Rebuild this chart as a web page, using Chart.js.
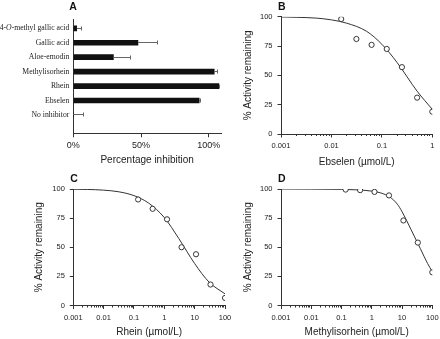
<!DOCTYPE html>
<html><head><meta charset="utf-8">
<script src="https://cdn.jsdelivr.net/npm/chart.js@4"></script>
<style>
html,body{margin:0;padding:0;background:#fff;}
#wrap{position:relative;width:440px;height:339px;overflow:hidden;background:#fff;}
canvas{position:absolute;left:0;top:0;}
</style></head><body>
<div id="wrap">
<canvas id="cA" width="440" height="339"></canvas>
<canvas id="cB" width="440" height="339"></canvas>
<canvas id="cC" width="440" height="339"></canvas>
<canvas id="cD" width="440" height="339"></canvas>
</div>
<script>
// ---------- Panel A: percentage inhibition ----------
const catA = ['4-O-methyl gallic acid', 'Gallic acid', 'Aloe-emodin', 'Methylisorhein', 'Rhein', 'Ebselen', 'No inhibitor'];
const inhibA = [2.5, 47.7, 29.6, 104, 107.4, 92.9, 0];
const errA = [3.4, 14.5, 12.6, 2.7, 0.6, 0.7, 7.4];
const xTicksA = [0, 50, 100];

// ---------- Panel B: Ebselen ----------
const concB = [0.015625, 0.03125, 0.0625, 0.125, 0.25, 0.5, 1];
const actB = [98, 81, 76, 72.5, 57, 31, 19];
const fitXB = [0.001, 0.002, 0.005, 0.01, 0.02, 0.05, 0.1, 0.2, 0.5, 1];
const fitYB = [99.8, 99.5, 98.8, 97.3, 94.5, 87.5, 76.5, 61, 36.5, 21];
const xMajorB = [0.001, 0.01, 0.1, 1];

// ---------- Panel C: Rhein ----------
const concC = [0.137, 0.412, 1.23, 3.7, 11.1, 33.3, 100];
const actC = [91, 83, 74, 50, 44, 18, 6.5];
const fitXC = [0.001, 0.003, 0.01, 0.03, 0.1, 0.3, 1, 3, 10, 30, 100];
const fitYC = [99.8, 99.6, 99.0, 97.7, 94.3, 88, 75.5, 57.5, 36, 20, 10];
const xMajorC = [0.001, 0.01, 0.1, 1, 10, 100];

// ---------- Panel D: Methylisorhein ----------
const concD = [0.137, 0.412, 1.23, 3.7, 11.1, 33.3, 100];
const actD = [99.5, 99, 97.5, 94.5, 73, 54, 28.5];
const fitXD = [0.001, 0.01, 0.1, 0.3, 1, 2, 4, 7, 10, 20, 40, 70, 100];
const fitYD = [100, 99.9, 99.7, 99.3, 98.2, 96.6, 93, 87, 80.5, 65, 49, 36, 29];
const xMajorD = [0.001, 0.01, 0.1, 1, 10, 100];

const yTicksAct = [0, 25, 50, 75, 100];

Chart.defaults.font.family = "'Liberation Sans', Arial, Helvetica, sans-serif";
Chart.defaults.color = '#222';
Chart.defaults.animation = false;
Chart.defaults.responsive = false;
Chart.defaults.devicePixelRatio = 1;
Chart.defaults.plugins.legend.display = false;
Chart.defaults.plugins.tooltip.enabled = false;

const AXIS = '#333';

function fixW(w) { return s => { s.width = w; s.paddingTop = 0; s.paddingBottom = 0; s.paddingLeft = 0; s.paddingRight = 0; }; }
function fixH(h) { return s => { s.height = h; s.paddingTop = 0; s.paddingBottom = 0; s.paddingLeft = 0; s.paddingRight = 0; }; }
function logTicks(majors) {
  return s => {
    const t = [];
    majors.forEach((m, i) => {
      t.push({value: m});
      if (i < majors.length - 1) for (let k = 2; k <= 9; k++) t.push({value: +(m * k).toPrecision(6)});
    });
    s.ticks = t;
  };
}

const panelLetter = {
  id: 'panelLetter',
  afterDraw(chart, args, opts) {
    if (!opts || !opts.text) return;
    const {ctx, chartArea} = chart;
    ctx.save();
    ctx.font = "bold 10.5px 'Liberation Sans', Arial, sans-serif";
    ctx.fillStyle = '#111';
    ctx.textBaseline = 'alphabetic';
    ctx.textAlign = 'left';
    ctx.fillText(opts.text, chartArea.left + opts.dx, chartArea.top + opts.dy);
    ctx.restore();
  }
};

const logTickMarks = {
  id: 'logTickMarks',
  afterDraw(chart, args, opts) {
    if (!opts || !opts.majors) return;
    const s = chart.scales.x, ctx = chart.ctx;
    ctx.save();
    ctx.strokeStyle = AXIS;
    ctx.lineWidth = 1;
    ctx.beginPath();
    s.ticks.forEach(t => {
      const px = Math.round(s.getPixelForValue(t.value) - 0.5) + 0.5;
      const len = opts.majors.includes(t.value) ? 3.5 : 2;
      ctx.moveTo(px, s.top);
      ctx.lineTo(px, s.top + len);
    });
    ctx.stroke();
    ctx.restore();
  }
};

const errorBars = {
  id: 'errorBars',
  afterDatasetsDraw(chart, args, opts) {
    if (!opts || !opts.err) return;
    const xs = chart.scales.x, ys = chart.scales.y, ctx = chart.ctx;
    ctx.save();
    ctx.strokeStyle = '#666';
    ctx.lineWidth = 1;
    opts.values.forEach((v, i) => {
      const y = Math.floor(ys.getPixelForValue(i)) + 0.5;
      const x0 = xs.getPixelForValue(v);
      const x1 = Math.round(xs.getPixelForValue(v + opts.err[i]) - 0.5) + 0.5;
      ctx.beginPath();
      ctx.moveTo(x0, y); ctx.lineTo(x1, y);
      ctx.moveTo(x1, y - 2); ctx.lineTo(x1, y + 2);
      ctx.stroke();
    });
    ctx.restore();
  }
};

// label with italic "O" (4-O-methyl gallic acid)
const italicLabel = {
  id: 'italicLabel',
  afterDraw(chart, args, opts) {
    if (!opts || !opts.labels) return;
    const ys = chart.scales.y, ctx = chart.ctx;
    const label = opts.labels[0];
    const k = label.indexOf('O');
    const parts = [[label.slice(0, k), ''], [label.slice(k, k + 1), 'italic '], [label.slice(k + 1), '']];
    const fam = "7.7px 'Liberation Serif', 'Times New Roman', serif";
    ctx.save();
    ctx.fillStyle = '#222';
    ctx.textBaseline = 'middle';
    ctx.textAlign = 'left';
    let total = 0;
    parts.forEach(p => { ctx.font = p[1] + fam; total += ctx.measureText(p[0]).width; });
    let x = chart.chartArea.left - 4 - total;
    const y = ys.getPixelForValue(0);
    parts.forEach(p => { ctx.font = p[1] + fam; ctx.fillText(p[0], x, y); x += ctx.measureText(p[0]).width; });
    ctx.restore();
  }
};

Chart.register(panelLetter, logTickMarks, errorBars, italicLabel);

// ---------- Chart A ----------
new Chart(document.getElementById('cA'), {
  type: 'bar',
  data: {
    datasets: [{
      data: catA.map((c, i) => ({x: inhibA[i], y: i})),
      backgroundColor: '#111',
      borderWidth: 0,
      barThickness: 5
    }]
  },
  options: {
    indexAxis: 'y',
    layout: {padding: {left: 0, top: 19, right: 219, bottom: 169}},
    scales: {
      x: {
        type: 'linear', min: 0, max: 109,
        afterBuildTicks: s => { s.ticks = xTicksA.map(v => ({value: v})); },
        ticks: {callback: v => v + '%', font: {size: 9}, padding: 3, maxRotation: 0, autoSkip: false},
        grid: {display: true, drawOnChartArea: false, drawTicks: true, tickLength: 4, color: AXIS},
        border: {display: true, color: AXIS},
        title: {display: true, text: 'Percentage inhibition', font: {size: 10}, padding: {top: 0, bottom: 4}},
        afterFit: fixH(36.7)
      },
      y: {
        type: 'linear', reverse: true, min: -0.644, max: 7.27, offset: false,
        afterBuildTicks: s => { s.ticks = catA.map((c, i) => ({value: i})); },
        ticks: {callback: v => (v === 0 ? '' : catA[v]), font: {family: "'Liberation Serif', 'Times New Roman', serif", size: 7.7}, padding: 4, autoSkip: false},
        grid: {display: false, drawTicks: false, tickLength: 0, offset: false},
        border: {display: true, color: AXIS},
        afterFit: fixW(73.3)
      }
    },
    plugins: {
      panelLetter: {text: 'A', dx: -4, dy: -9},
      errorBars: {values: inhibA, err: errA},
      italicLabel: {labels: catA}
    }
  }
});

function doseChart(id, conc, act, fitX, fitY, majors, xmax, xTitle, letter, pad, yW, xH, tickPad, titlePadB, yTitlePad) {
  return new Chart(document.getElementById(id), {
    type: 'scatter',
    data: {
      datasets: [
        {
          type: 'scatter',
          data: conc.map((x, i) => ({x: x, y: act[i]})),
          showLine: false,
          pointRadius: 2.6,
          pointBackgroundColor: '#fff',
          pointBorderColor: '#222',
          pointBorderWidth: 0.9
        },
        {
          type: 'line',
          data: fitX.map((x, i) => ({x: x, y: fitY[i]})),
          borderColor: '#333',
          borderWidth: 1,
          pointRadius: 0,
          fill: false,
          cubicInterpolationMode: 'monotone'
        }
      ]
    },
    options: {
      layout: {padding: pad},
      scales: {
        x: {
          type: 'logarithmic', min: 0.001, max: xmax,
          afterBuildTicks: logTicks(majors),
          ticks: {callback: v => (majors.includes(v) ? String(v) : ''), font: {size: 7.5}, padding: tickPad, autoSkip: false, maxRotation: 0, minRotation: 0},
          grid: {display: false, drawTicks: false, tickLength: 0},
          border: {display: true, color: AXIS},
          title: {display: true, text: xTitle, font: {size: 10}, padding: {top: 0, bottom: titlePadB}},
          afterFit: fixH(xH)
        },
        y: {
          type: 'linear', min: 0, max: 100,
          afterBuildTicks: s => { s.ticks = yTicksAct.map(v => ({value: v})); },
          ticks: {font: {size: 7.5}, padding: 5, autoSkip: false},
          grid: {display: true, drawOnChartArea: false, drawTicks: true, tickLength: 3.5, color: AXIS},
          border: {display: true, color: AXIS},
          title: {display: true, text: '% Activity remaining', font: {size: 10}, padding: {top: yTitlePad, bottom: 0}},
          afterFit: fixW(yW)
        }
      },
      plugins: {
        panelLetter: {text: letter, dx: -3, dy: -7},
        logTickMarks: {majors: majors}
      }
    }
  });
}

doseChart('cB', concB, actB, fitXB, fitYB, xMajorB, 1, 'Ebselen (\u00b5mol/L)', 'B',
  {left: 240, top: 16.7, right: 7.7, bottom: 169}, 41, 36, 7.2, 1.7, 2.3);
doseChart('cC', concC, actC, fitXC, fitYC, xMajorC, 100, 'Rhein (\u00b5mol/L)', 'C',
  {left: 30, top: 189, right: 215, bottom: 0}, 43.3, 33.5, 7.5, 1, 3.3);
doseChart('cD', concD, actD, fitXD, fitYD, xMajorD, 100, 'Methylisorhein (\u00b5mol/L)', 'D',
  {left: 240, top: 189, right: 7.7, bottom: 0}, 41, 33.5, 7.5, 1, 2.3);
</script>
</body></html>
